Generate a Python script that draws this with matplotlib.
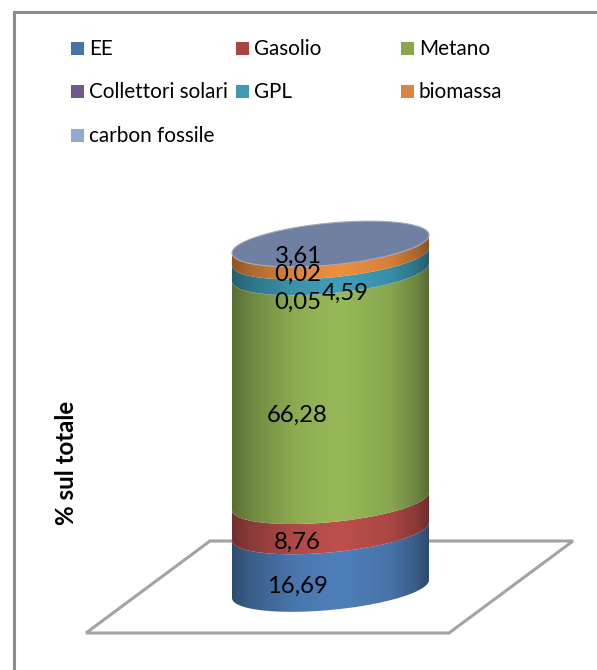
import numpy as np
import matplotlib
matplotlib.use("Agg")
import matplotlib.pyplot as plt
from matplotlib.patches import PathPatch, Polygon, Rectangle
from matplotlib.path import Path

plt.rcParams['font.family'] = ['Lato', 'DejaVu Sans']

# Quote percentuali per fonte energetica
categorie = ["EE", "Gasolio", "Metano", "Collettori solari", "GPL", "biomassa", "carbon fossile"]
valori = [16.69, 8.76, 66.28, 0.05, 4.59, 3.61, 0.02]
etichette = ["16,69", "8,76", "66,28", "0,05", "4,59", "3,61", "0,02"]
colori_legenda = ["#4674a8", "#a94644", "#8aa64a", "#71588f", "#4198af", "#db843d", "#93a9cf"]
colori_cilindro = ["#4f80bb", "#bd4f4c", "#98b958", "#71588f", "#3f9fba", "#ec8f40", "#6f80a3"]
titolo_asse = "% sul totale"

W, H = 597, 670
GRIGIO = "#a3a3a3"

fig = plt.figure(figsize=(W / 100, H / 100), dpi=100)

# Sfondo: cornice, pavimento e legenda in coordinate pixel
bg = fig.add_axes([0, 0, 1, 1])
bg.set_xlim(0, W)
bg.set_ylim(H, 0)
bg.axis("off")
bg.plot([13.5, 13.5, W], [H, 12, 12], color="#8c8c8c", lw=2.2, solid_joinstyle="miter")
bg.add_patch(Polygon([(86, 633), (449, 633), (573, 541), (210, 541)], closed=True,
                     fill=False, edgecolor=GRIGIO, lw=2.2))

col_x = [71, 236, 401]
riga_y = [48.5, 91.5, 135]
for i, nome in enumerate(categorie):
    x = col_x[i % 3]
    y = riga_y[i // 3]
    bg.add_patch(Rectangle((x, y - 6.5), 13, 13, facecolor=colori_legenda[i], edgecolor="none"))
    bg.text(x + 18, y + 0.5, nome, fontsize=14.9, color="black", va="center", ha="left")

bg.text(67, 463, titolo_asse, fontsize=17.4, fontweight="bold", rotation=90,
        va="center", ha="center", color="black")

# Cilindro: asse y in percentuale, 0 alla base e 100 in cima
SCALA = 3.45          # pixel per punto percentuale
BASE = 589            # pixel della base
RX = 98.5             # raggio in pixel
CX = 330.5
x_min, x_max, y_min, y_max = 200, 460, 200, 630
ax = fig.add_axes([x_min / W, 1 - y_max / H, (x_max - x_min) / W, (y_max - y_min) / H])
ax.patch.set_alpha(0)
ax.axis("off")

RY = 21 / SCALA
K = 9 / SCALA
t = np.linspace(np.pi, 2 * np.pi, 120)


def arco(y):
    return np.cos(t), y + RY * np.sin(t) + K * np.cos(t)


# Ombreggiatura orizzontale del cilindro
gx = np.linspace(-1, 1, 200)
luce = np.interp(gx, [-1, -0.8, -0.35, 0.1, 0.6, 0.88, 1], [0.6, 0.74, 0.93, 1.0, 0.9, 0.72, 0.58])


def sfumatura(colore):
    rgb = np.array(matplotlib.colors.to_rgb(colore))
    return np.clip(luce[None, :, None] * rgb[None, None, :], 0, 1)


cum = np.concatenate([[0], np.cumsum(valori)])
for i in range(len(valori)):
    x0, y0 = arco(cum[i])
    x1, y1 = arco(cum[i + 1])
    verts = np.column_stack([np.r_[x0, x1[::-1]], np.r_[y0, y1[::-1]]])
    fascia = PathPatch(Path(np.vstack([verts, verts[0]])), facecolor="none", edgecolor="none",
                       transform=ax.transData)
    ax.add_patch(fascia)
    img = ax.imshow(sfumatura(colori_cilindro[i]), extent=(-1, 1, cum[i] - 12, cum[i + 1] + 12),
                    aspect="auto", origin="lower", interpolation="bilinear", zorder=2)
    img.set_clip_path(fascia)

# Faccia superiore
ang = np.linspace(0, 2 * np.pi, 240)
top = cum[-1]
ax.add_patch(Polygon(np.column_stack([np.cos(ang), top + RY * np.sin(ang) + K * np.cos(ang)]),
                     closed=True, facecolor=colori_cilindro[-1], edgecolor="#a4a9b4", lw=0.8, zorder=3))

ax.set_xlim((x_min - CX) / RX, (x_max - CX) / RX)
ax.set_ylim((BASE - y_max) / SCALA, (BASE - y_min) / SCALA)

# Etichette dei valori, spostate rispetto al centro di ogni fascia
spost_x = [-33, -33, -33, -33, 15, -32, -33]
spost_y = [-26, -26, -28, -30, -29, -6, -30]
for i, testo in enumerate(etichette):
    ax.annotate(testo, xy=(0, (cum[i] + cum[i + 1]) / 2), xytext=(spost_x[i], spost_y[i]),
                textcoords="offset pixels", fontsize=17.2, ha="center", va="center",
                color="black", zorder=5, annotation_clip=False)

fig.savefig("out.png", dpi=100, facecolor="white")
